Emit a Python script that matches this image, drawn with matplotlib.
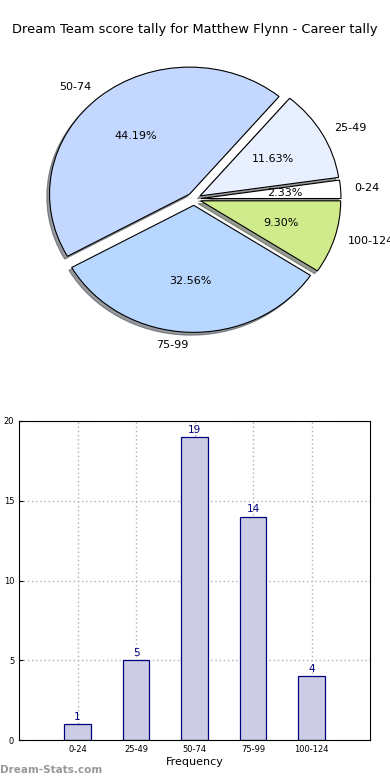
import matplotlib
matplotlib.use("Agg")
import matplotlib.pyplot as plt
import numpy as np

categories = ["0-24", "25-49", "50-74", "75-99", "100-124"]
counts = [1, 5, 19, 14, 4]
pie_colors = ["#ffffff", "#e8efff", "#c4d8ff", "#b7d7ff", "#cfeb8b"]
title = "Dream Team score tally for Matthew Flynn - Career tally"

W, H = 390, 780
fig = plt.figure(figsize=(W / 100, H / 100), dpi=100)

fig.text(0.5, 1 - 30 / H, title, ha="center", va="center", fontsize=9.4)

# Pie (slightly elliptical, as in the reference)
cx, cy, rx, ry = 194, 199, 140, 127
lim = 1.4
axp = fig.add_axes([(cx - lim * rx) / W, (H - cy - lim * ry) / H,
                    2 * lim * rx / W, 2 * lim * ry / H])
axp.pie(counts, labels=categories, colors=pie_colors, explode=[0.05] * 5,
        autopct="%1.2f%%", shadow={"ox": -0.014, "oy": -0.016, "shade": 0.75},
        startangle=0,
        wedgeprops=dict(edgecolor="black", linewidth=0.8),
        textprops=dict(fontsize=8))
axp.set_aspect("auto")
axp.set_xlim(-lim, lim)
axp.set_ylim(-lim, lim)
axp.axis("off")

# Bars
x0, x1, y0, y1 = 19, 370, 421, 740
axb = fig.add_axes([x0 / W, (H - y1) / H, (x1 - x0) / W, (y1 - y0) / H])
pos = np.arange(len(categories))
axb.bar(pos, counts, width=0.45, color="#ccccE4", edgecolor="#000080", linewidth=0.9, zorder=2)
for p, c in zip(pos, counts):
    axb.text(p, c + 0.15, str(c), ha="center", va="bottom", color="#000080", fontsize=7.5)
axb.set_xlim(-1, 5)
axb.set_ylim(0, 20)
axb.set_xticks(pos)
axb.set_xticklabels(categories)
axb.set_yticks([0, 5, 10, 15, 20])
axb.tick_params(axis="both", direction="in", labelsize=6, length=3)
axb.grid(True, linestyle=(0, (1, 2)), color="#b0b0b0", linewidth=1, zorder=0)
axb.set_axisbelow(True)
axb.set_xlabel("Frequency", fontsize=8, labelpad=2)
axb.set_ylabel("Score Tallies", fontsize=8)
axb.yaxis.set_label_coords(-0.072, 0.5)

fig.text(0 / W, 1 - 770 / H, "Dream-Stats.com", color="#999999", fontsize=7.5,
         fontweight="bold", ha="left", va="center")

fig.savefig("out.png", dpi=100)
